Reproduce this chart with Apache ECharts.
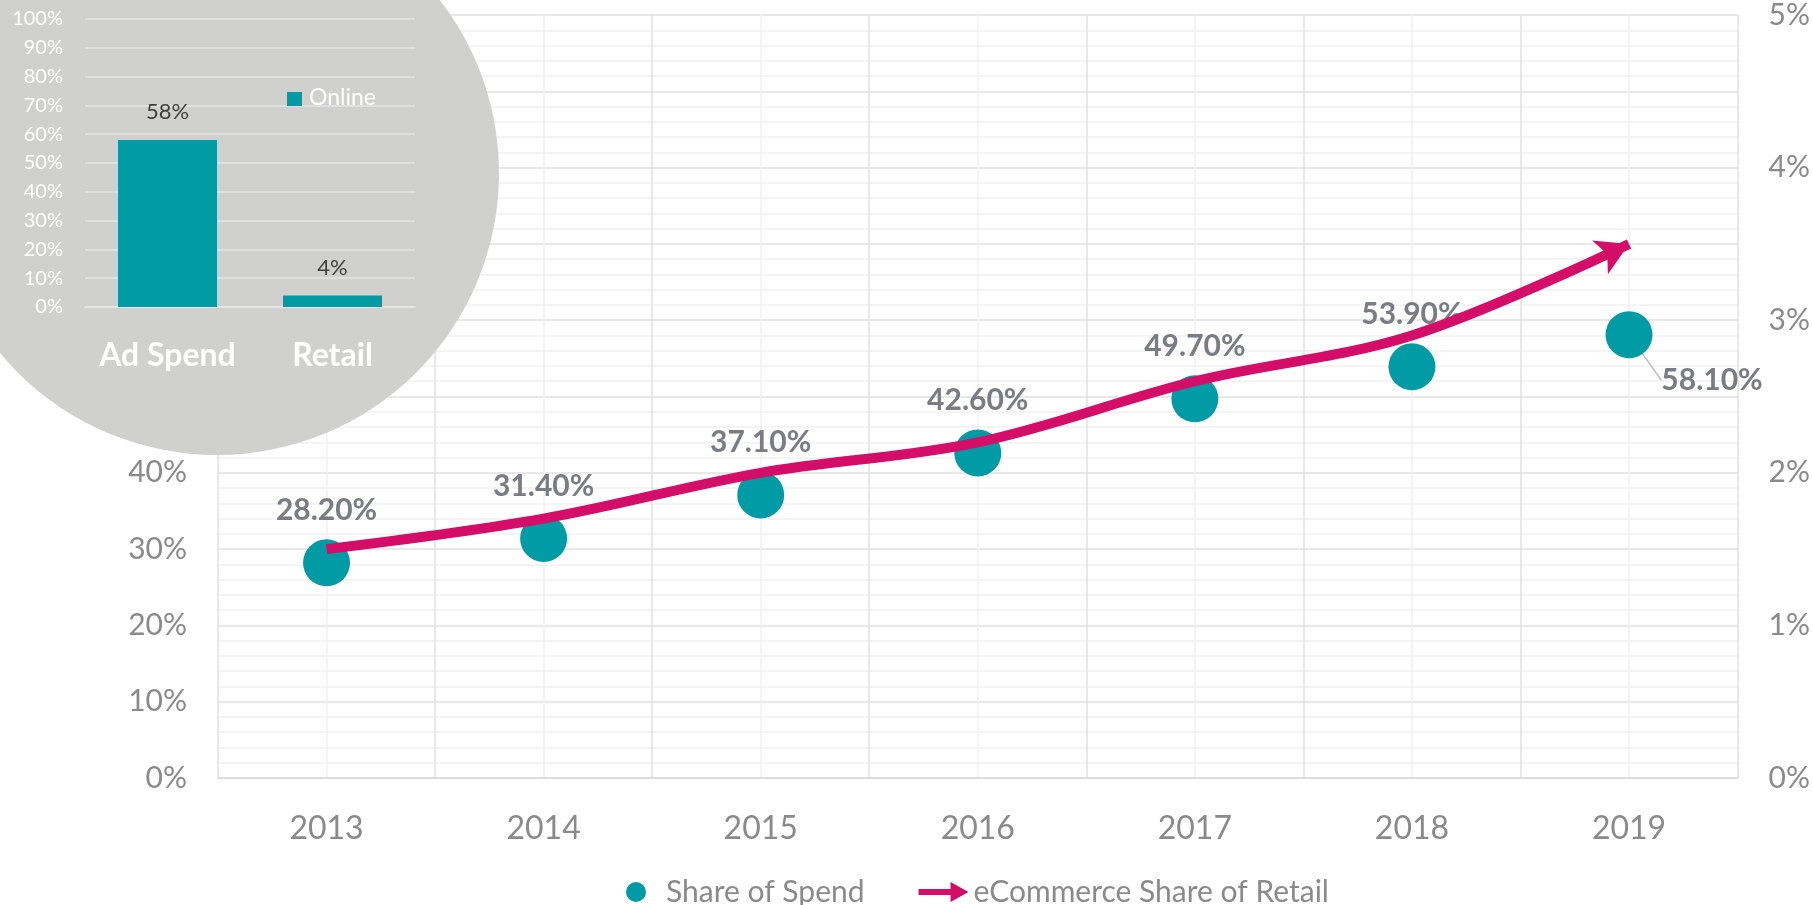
<!DOCTYPE html>
<html lang="en">
<head>
    <meta charset="UTF-8">
    <title>Share of Spend vs eCommerce Share of Retail</title>
    <script src="https://cdn.jsdelivr.net/npm/echarts@6/dist/echarts.min.js"></script>
    <style>
        html, body { margin: 0; padding: 0; background: #fff; }
        #main { width: 1813px; height: 905px; }
    </style>
</head>
<body>
    <div id="main"></div>
    <script>
        // main chart data
        var years = ['2013', '2014', '2015', '2016', '2017', '2018', '2019']
        var shareOfSpend = [28.2, 31.4, 37.1, 42.6, 49.7, 53.9, 58.1]       // left axis, %
        var ecomShareRetail = [1.5, 1.7, 2.0, 2.2, 2.6, 2.9, 3.5]          // right axis, %
        // inset bar chart data
        var insetCats = ['Ad Spend', 'Retail']
        var insetOnline = [58, 4]

        var teal = '#009ba5'
        var magenta = '#d40d69'
        var grayText = '#8a8a8a'
        var font = 'Lato, "Noto Sans", sans-serif'

        var mCharts = echarts.init(document.getElementById('main'))

        // scatter points, last one gets its label pulled down-right with a leader line
        var spendData = shareOfSpend.map(function (v, i) {
            if (i === shareOfSpend.length - 1) {
                return { value: v, labelLine: { show: true, lineStyle: { color: '#bdbdbd', width: 1.5 } } }
            }
            return v
        })
        // line: hidden symbols, arrow head on the last point
        var retailData = ecomShareRetail.map(function (v, i) {
            if (i === ecomShareRetail.length - 1) {
                return { value: v, symbol: 'arrow', symbolSize: [28, 32], symbolRotate: -65 }
            }
            return v
        })

        var option = {
            animation: false,
            textStyle: { fontFamily: font },
            graphic: [{
                type: 'circle',
                z: 20,
                shape: { cx: 217, cy: 173, r: 282 },
                style: { fill: '#d0d0cf' },
                silent: true
            }, {
                type: 'group',
                z: 31,
                left: 287,
                top: 86,
                children: [{
                    type: 'rect',
                    z: 31,
                    shape: { x: 0, y: 6, width: 15, height: 14 },
                    style: { fill: teal }
                }, {
                    type: 'text',
                    z: 31,
                    x: 22,
                    y: 0,
                    style: { text: 'Online', fill: '#ffffff', font: '23px ' + font }
                }]
            }],
            legend: {
                left: 621,
                bottom: -7,
                itemWidth: 50,
                itemHeight: 20,
                itemGap: 54,
                textStyle: { color: grayText, fontSize: 30, fontFamily: font },
                data: [
                    { name: 'Share of Spend', icon: 'circle' },
                    { name: 'eCommerce Share of Retail', icon: 'path://M0,7 L32,7 L32,0 L50,10 L32,20 L32,13 L0,13 Z' }
                ]
            },
            grid: [
                { left: 218, right: 72, top: 15, bottom: 127 },
                { left: 85, top: 19, width: 330, height: 288 }
            ],
            xAxis: [{
                type: 'category',
                gridIndex: 0,
                data: years,
                boundaryGap: true,
                axisTick: { show: false },
                axisLine: { lineStyle: { color: '#d9d9d9', width: 1.5 } },
                axisLabel: { color: grayText, fontSize: 32, margin: 35, fontFamily: font },
                splitLine: { show: true, interval: 0, lineStyle: { color: '#e0e0e0', width: 1.5 } }
            }, {
                // only used for the light lines through the category centres
                type: 'value',
                gridIndex: 0,
                min: 0,
                max: 7,
                interval: 1,
                axisLine: { show: false },
                axisTick: { show: false },
                axisLabel: { show: false },
                splitLine: { show: false },
                minorTick: { show: false, splitNumber: 2 },
                minorSplitLine: { show: true, lineStyle: { color: '#f1f1f1', width: 1.5 } }
            }, {
                type: 'category',
                gridIndex: 1,
                data: insetCats,
                z: 30,
                axisTick: { show: false },
                axisLine: { lineStyle: { color: '#e6e6e6', width: 1.5 } },
                axisLabel: { interval: 0, color: '#ffffff', fontSize: 32, fontWeight: 'bold', margin: 33, fontFamily: font }
            }],
            yAxis: [{
                type: 'value',
                gridIndex: 0,
                min: 0,
                max: 100,
                interval: 10,
                axisLine: { show: false },
                axisTick: { show: false },
                axisLabel: { color: grayText, fontSize: 30, margin: 31, formatter: '{value}%', fontFamily: font },
                splitLine: { lineStyle: { color: '#e0e0e0', width: 1.5 } },
                minorTick: { show: false, splitNumber: 5 },
                minorSplitLine: { show: true, lineStyle: { color: '#f1f1f1', width: 1.5 } }
            }, {
                type: 'value',
                gridIndex: 0,
                position: 'right',
                min: 0,
                max: 5,
                interval: 1,
                axisLine: { show: false },
                axisTick: { show: false },
                axisLabel: { color: grayText, fontSize: 30, margin: 31, formatter: '{value}%', fontFamily: font },
                splitLine: { show: false }
            }, {
                type: 'value',
                gridIndex: 1,
                min: 0,
                max: 100,
                interval: 10,
                z: 30,
                axisLine: { show: false },
                axisTick: { show: false },
                axisLabel: { color: '#ffffff', fontSize: 20, margin: 22, formatter: '{value}%', fontFamily: font },
                splitLine: { lineStyle: { color: '#e6e6e6', width: 1.5 } }
            }],
            series: [{
                name: 'Share of Spend',
                type: 'scatter',
                xAxisIndex: 0,
                yAxisIndex: 0,
                symbolSize: 47,
                itemStyle: { color: teal, opacity: 1 },
                label: {
                    show: true,
                    position: 'top',
                    distance: 14,
                    color: '#7a7c84',
                    fontSize: 30,
                    fontWeight: 'bold',
                    fontFamily: font,
                    formatter: function (p) { return p.value.toFixed(2) + '%' }
                },
                labelLayout: function (p) {
                    if (p.dataIndex === shareOfSpend.length - 1) {
                        return { dx: 83, dy: 98 }
                    }
                    return {}
                },
                data: spendData
            }, {
                name: 'eCommerce Share of Retail',
                type: 'line',
                xAxisIndex: 0,
                yAxisIndex: 1,
                smooth: 0.35,
                symbol: 'circle',
                symbolSize: 0,
                showSymbol: true,
                showAllSymbol: true,
                lineStyle: { color: magenta, width: 10 },
                itemStyle: { color: magenta },
                z: 3,
                data: retailData
            }, {
                name: 'Online',
                type: 'bar',
                xAxisIndex: 2,
                yAxisIndex: 2,
                z: 30,
                barWidth: 99,
                itemStyle: { color: teal },
                label: {
                    show: true,
                    position: 'top',
                    distance: 17,
                    color: '#404040',
                    fontSize: 22,
                    fontFamily: font,
                    formatter: '{c}%'
                },
                data: insetOnline
            }]
        }
        mCharts.setOption(option)
    </script>
</body>
</html>
